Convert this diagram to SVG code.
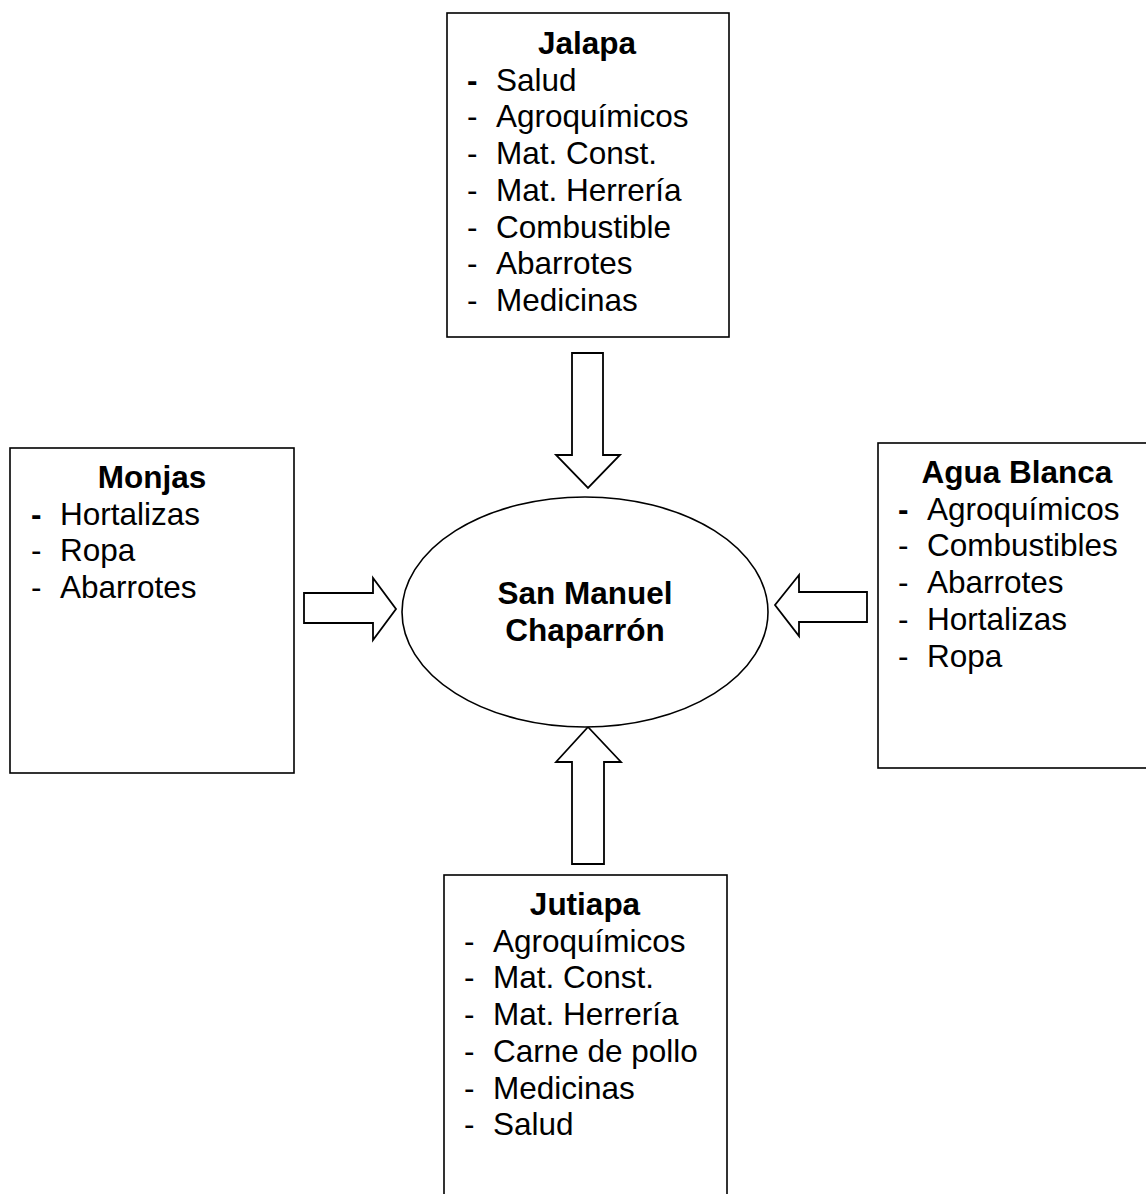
<svg xmlns="http://www.w3.org/2000/svg" width="1146" height="1194" viewBox="0 0 1146 1194">
<style>
.box{fill:#fff;stroke:#000;stroke-width:1.6}
.arr{fill:#fff;stroke:#000;stroke-width:1.8;stroke-linejoin:miter}
text{font-family:"Liberation Sans",Arial,sans-serif;font-size:31.5px;fill:#000}
.t{font-weight:bold;text-anchor:middle}
.b{font-weight:bold}
</style>
<rect width="1146" height="1194" fill="#fff"/>
<g id="connectors">
<polygon class="arr" points="572,353 603,353 603,455 620,455 588,488 556,455 572,455"/>
<polygon class="arr" points="572,864 604,864 604,762 621,762 588,727 556,762 572,762"/>
<polygon class="arr" points="304,593 373,593 373,578 396,609 373,640 373,623 304,623"/>
<polygon class="arr" points="867,592 799,592 799,575 775,605 799,636 799,622 867,622"/>
</g>
<g id="center">
<ellipse class="box" cx="585" cy="612" rx="183" ry="115"/>
<text class="t" x="585" y="604">San Manuel</text>
<text class="t" x="585" y="641">Chaparrón</text>
</g>
<g id="jalapa">
<rect class="box" x="447" y="13" width="282" height="324"/>
<text class="t" x="587" y="54">Jalapa</text>
<text class="b" x="467" y="90.7">-</text><text x="496" y="90.7">Salud</text>
<text x="467" y="127.4">-</text><text x="496" y="127.4">Agroquímicos</text>
<text x="467" y="164.1">-</text><text x="496" y="164.1">Mat. Const.</text>
<text x="467" y="200.8">-</text><text x="496" y="200.8">Mat. Herrería</text>
<text x="467" y="237.5">-</text><text x="496" y="237.5">Combustible</text>
<text x="467" y="274.2">-</text><text x="496" y="274.2">Abarrotes</text>
<text x="467" y="310.9">-</text><text x="496" y="310.9">Medicinas</text>
</g>
<g id="monjas">
<rect class="box" x="10" y="448" width="284" height="325"/>
<text class="t" x="152" y="488">Monjas</text>
<text class="b" x="31" y="524.7">-</text><text x="60" y="524.7">Hortalizas</text>
<text x="31" y="561.4">-</text><text x="60" y="561.4">Ropa</text>
<text x="31" y="598.1">-</text><text x="60" y="598.1">Abarrotes</text>
</g>
<g id="agua-blanca">
<rect class="box" x="878" y="443" width="280" height="325"/>
<text class="t" x="1017" y="483">Agua Blanca</text>
<text class="b" x="898" y="519.7">-</text><text x="927" y="519.7">Agroquímicos</text>
<text x="898" y="556.4">-</text><text x="927" y="556.4">Combustibles</text>
<text x="898" y="593.1">-</text><text x="927" y="593.1">Abarrotes</text>
<text x="898" y="629.8">-</text><text x="927" y="629.8">Hortalizas</text>
<text x="898" y="666.5">-</text><text x="927" y="666.5">Ropa</text>
</g>
<g id="jutiapa">
<rect class="box" x="444" y="875" width="283" height="340"/>
<text class="t" x="585" y="915">Jutiapa</text>
<text x="464" y="951.7">-</text><text x="493" y="951.7">Agroquímicos</text>
<text x="464" y="988.4">-</text><text x="493" y="988.4">Mat. Const.</text>
<text x="464" y="1025.1">-</text><text x="493" y="1025.1">Mat. Herrería</text>
<text x="464" y="1061.8">-</text><text x="493" y="1061.8">Carne de pollo</text>
<text x="464" y="1098.5">-</text><text x="493" y="1098.5">Medicinas</text>
<text x="464" y="1135.2">-</text><text x="493" y="1135.2">Salud</text>
</g>
</svg>
